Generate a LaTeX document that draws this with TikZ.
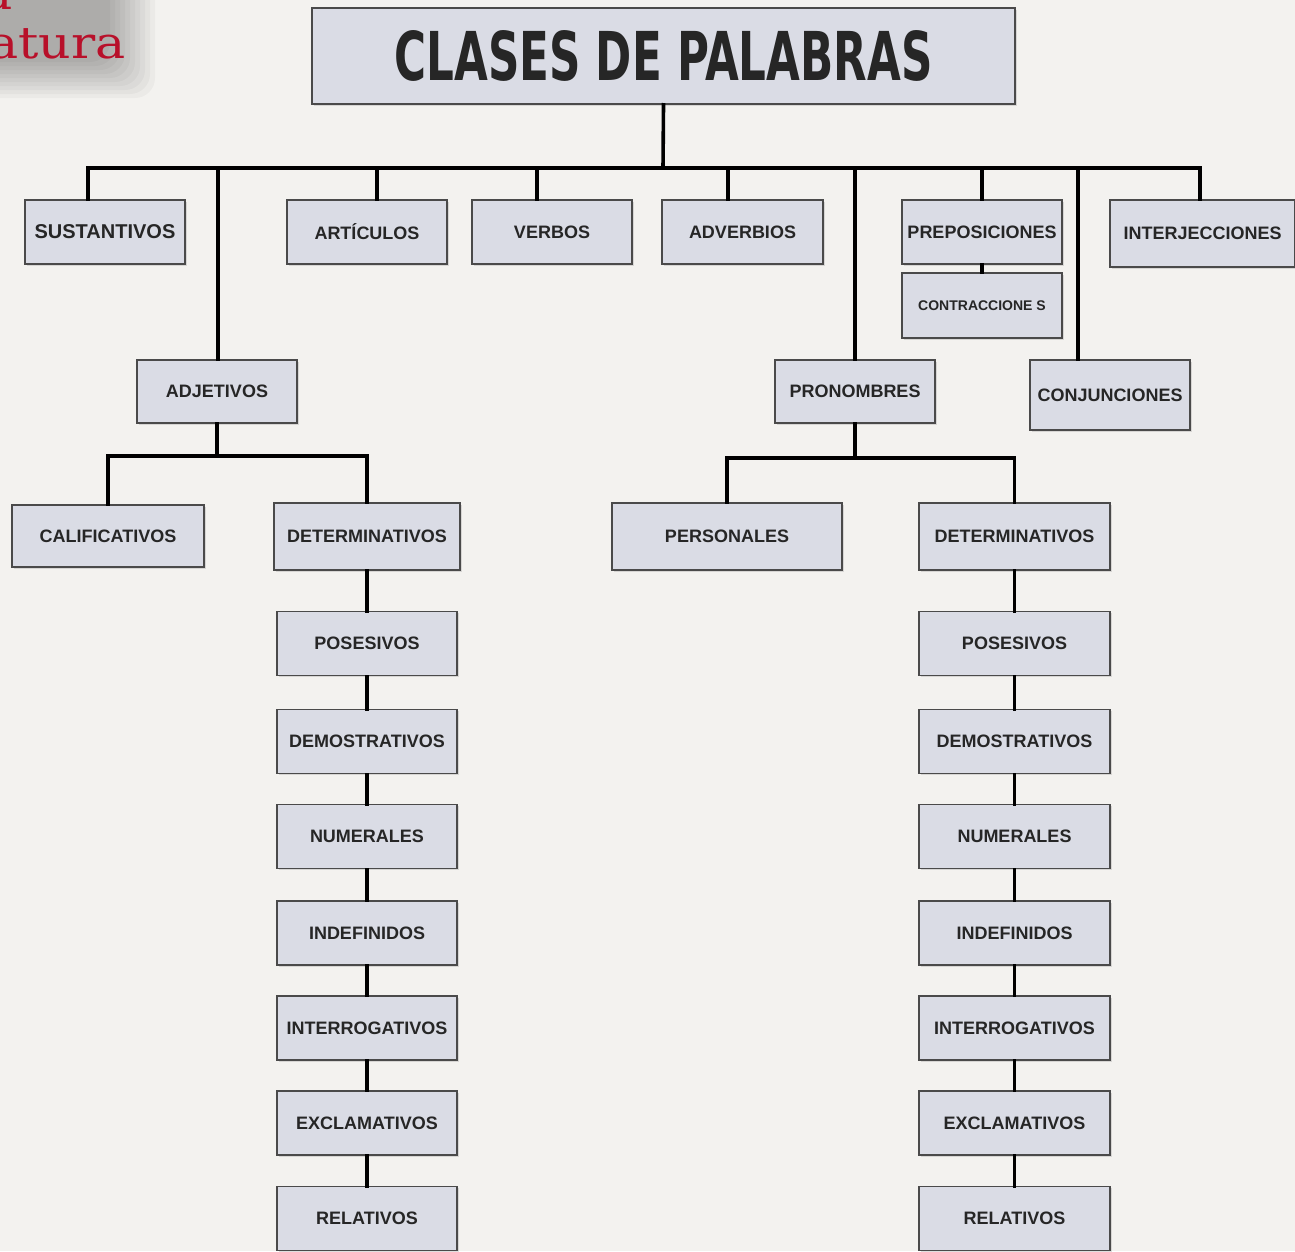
\documentclass[tikz,border=0pt]{standalone}
\usepackage{fontspec}
\setmainfont{Liberation Sans}
\newfontfamily\titlefont{DejaVu Sans}
\newfontfamily\redfont{DejaVu Serif}
\usetikzlibrary{shadows}
\definecolor{bg}{HTML}{F3F2EF}
\definecolor{boxfill}{HTML}{DADCE5}
\definecolor{boxline}{HTML}{4A4A4A}
\definecolor{txt}{HTML}{262626}
\definecolor{redtxt}{HTML}{B8102A}
\tikzset{
  box/.style={draw=boxline, line width=1.6pt, fill=boxfill, inner sep=0pt,
    drop shadow={shadow xshift=1.5pt, shadow yshift=-1.5pt, opacity=0.25},
    font=\fontsize{18pt}{21pt}\selectfont\bfseries, text=txt},
  conn/.style={line width=3.6pt, black, line cap=rect},
}
\begin{document}
\begin{tikzpicture}[x={(1pt,0)}, y={(0,-1pt)}]
\useasboundingbox (0,0) rectangle (1295,1251);
\fill[bg] (0,0) rectangle (1295,1251);
\clip (0,0) rectangle (1295,1251);
% grey banner shadow top-left
\foreach \i in {0,...,9}{
  \fill[black, opacity=0.03, rounded corners=20pt] (-40,-40) rectangle (155-5*\i, 98-4*\i);
}
\node[anchor=base east, text=redtxt, font=\redfont\fontsize{44pt}{48pt}\selectfont, inner sep=0pt] (lin1) at (13,9) {\scalebox{1.15}[1]{Lengua}};
\node[anchor=base east, text=redtxt, font=\redfont\fontsize{44pt}{48pt}\selectfont, inner sep=0pt] (lin2) at (126,58) {\scalebox{1.15}[1]{Literatura}};

% title
\node[box, minimum width=703pt, minimum height=96pt] (title) at (663.5,56)
  {\resizebox{538pt}{50pt}{\titlefont\bfseries CLASES DE PALABRAS}};

% top row
\node[box, minimum width=160pt, minimum height=64pt, font=\fontsize{20pt}{23pt}\selectfont\bfseries] (sus) at (105,232) {SUSTANTIVOS};
\node[box, minimum width=160pt, minimum height=64pt] (art) at (367,232) {ART\'ICULOS};
\node[box, minimum width=160pt, minimum height=64pt] (verb) at (552,232) {VERBOS};
\node[box, minimum width=161pt, minimum height=64pt] (adv) at (742.5,232) {ADVERBIOS};
\node[box, minimum width=160pt, minimum height=64pt] (prep) at (982,232) {PREPOSICIONES};
\node[box, minimum width=160pt, minimum height=65pt, font=\fontsize{14pt}{16pt}\selectfont\bfseries] (contr) at (982,305.5) {CONTRACCIONE S};
\node[box, minimum width=185pt, minimum height=67pt] (interj) at (1202.5,233.5) {INTERJECCIONES};

% second level
\node[box, minimum width=160pt, minimum height=63pt] (adj) at (217,391.5) {ADJETIVOS};
\node[box, minimum width=160pt, minimum height=63pt] (pron) at (855,391.5) {PRONOMBRES};
\node[box, minimum width=160pt, minimum height=70pt] (conj) at (1110,395) {CONJUNCIONES};

% third level
\node[box, minimum width=192pt, minimum height=62pt] (cal) at (108,536) {CALIFICATIVOS};
\node[box, minimum width=186pt, minimum height=67pt] (detL) at (367,536.5) {DETERMINATIVOS};
\node[box, minimum width=230pt, minimum height=67pt] (pers) at (727,536.5) {PERSONALES};
\node[box, minimum width=191pt, minimum height=67pt] (detR) at (1014.5,536.5) {DETERMINATIVOS};

% columns
\foreach \n/\y/\t in {1/643.5/POSESIVOS, 2/741.5/DEMOSTRATIVOS, 3/836.5/NUMERALES, 4/933/INDEFINIDOS, 5/1028/INTERROGATIVOS, 6/1123/EXCLAMATIVOS, 7/1218.5/RELATIVOS}{
  \node[box, minimum width=180pt, minimum height=64pt] (L\n) at (367,\y) {\t};
  \node[box, minimum width=191pt, minimum height=64pt] (R\n) at (1014.5,\y) {\t};
}

% connectors
\coordinate (bus) at (663,168);
\coordinate (bSus) at (88,168);
\coordinate (bAdj) at (218,168);
\coordinate (bArt) at (377,168);
\coordinate (bVerb) at (537,168);
\coordinate (bAdv) at (728,168);
\coordinate (bPron) at (855,168);
\coordinate (bPrep) at (982,168);
\coordinate (bConj) at (1078,168);
\coordinate (bInt) at (1200,168);
\draw[conn] (title.south) -- (bus);
\draw[conn] (bSus) -- (bInt);
\draw[conn] (bSus) -- (bSus |- sus.north);
\draw[conn] (bAdj) -- (bAdj |- adj.north);
\draw[conn] (bArt) -- (bArt |- art.north);
\draw[conn] (bVerb) -- (bVerb |- verb.north);
\draw[conn] (bAdv) -- (bAdv |- adv.north);
\draw[conn] (bPron) -- (bPron |- pron.north);
\draw[conn] (bPrep) -- (bPrep |- prep.north);
\draw[conn] (bConj) -- (bConj |- conj.north);
\draw[conn] (bInt) -- (bInt |- interj.north);
\draw[conn] (prep.south) -- (contr.north);

\coordinate (adjbus) at (217,456);
\draw[conn] (adj.south) -- (adjbus);
\draw[conn] (cal.north) |- (adjbus) -| (detL.north);
\coordinate (pronbus) at (855,458);
\draw[conn] (pron.south) -- (pronbus);
\draw[conn] (pers.north) |- (pronbus) -| (detR.north);

\draw[conn] (detL.south) -- (L1.north);
\draw[conn] (detR.south) -- (R1.north);
\foreach \a/\b in {1/2,2/3,3/4,4/5,5/6,6/7}{
  \draw[conn] (L\a.south) -- (L\b.north);
  \draw[conn] (R\a.south) -- (R\b.north);
}
\end{tikzpicture}
\end{document}
